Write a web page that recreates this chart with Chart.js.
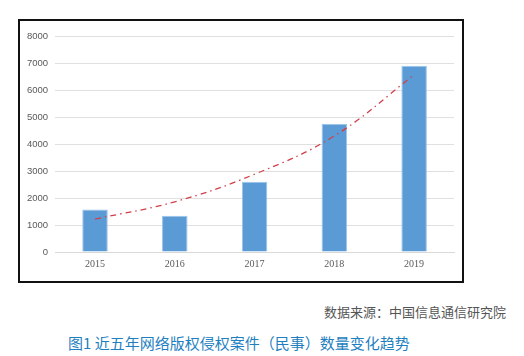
<!DOCTYPE html>
<html><head><meta charset="utf-8">
<script src="https://cdn.jsdelivr.net/npm/chart.js@4"></script>
<style>
html,body{margin:0;padding:0;background:#fff;width:524px;height:356px;overflow:hidden;}
#box{position:absolute;left:18px;top:19px;width:442px;height:260px;border:2px solid #111;}
#c{position:absolute;left:0;top:0;}
#src{position:absolute;right:18px;top:302px;font:13px "Noto Sans CJK SC",sans-serif;color:#555;white-space:nowrap;}
#cap{position:absolute;left:68px;top:332px;font:15px "Noto Sans CJK SC",sans-serif;color:#1f7fc0;white-space:nowrap;}
</style></head><body>
<div id="box"><canvas id="c" width="442" height="260"></canvas></div>
<div id="src">数据来源：中国信息通信研究院</div>
<div id="cap">图1 近五年网络版权侵权案件（民事）数量变化趋势</div>
<script>
const years = ["2015","2016","2017","2018","2019"];
const cases = [1570, 1340, 2600, 4750, 6900];
const trend = [1220, 1860, 2880, 4300, 6560];
const yTicks = [0,1000,2000,3000,4000,5000,6000,7000,8000];

new Chart(document.getElementById('c'), {
  data: {
    labels: years,
    datasets: [
      {type:'line', data: trend, borderColor:'#d0404a', borderWidth:1.3, borderDash:[6,4,1.5,4],
       pointRadius:0, tension:0.4, fill:false, order:0},
      {type:'bar', data: cases, backgroundColor:'#5b9bd5', borderColor:'#9cc3ea', borderWidth:1,
       categoryPercentage:1, barPercentage:0.32, order:1}
    ]
  },
  options: {
    responsive:false, animation:false,
    layout:{padding:{left:0,right:8,top:15,bottom:5}},
    plugins:{legend:{display:false}, tooltip:{enabled:false}},
    scales:{
      x:{grid:{display:false, drawTicks:false}, border:{color:'#d9d9d9'},
         ticks:{font:{family:'"Liberation Serif","Times New Roman",serif', size:10}, color:'#595959', padding:6}},
      y:{min:0,max:8000, afterBuildTicks:(a)=>{a.ticks=yTicks.map(v=>({value:v}));},
         grid:{color:'#e0e0e0', drawTicks:false, lineWidth:1}, border:{display:false},
         ticks:{font:{family:'"Liberation Sans",sans-serif', size:9.5}, color:'#595959', padding:7,
                callback:(v)=>String(v)}}
    }
  }
});
</script>
</body></html>
